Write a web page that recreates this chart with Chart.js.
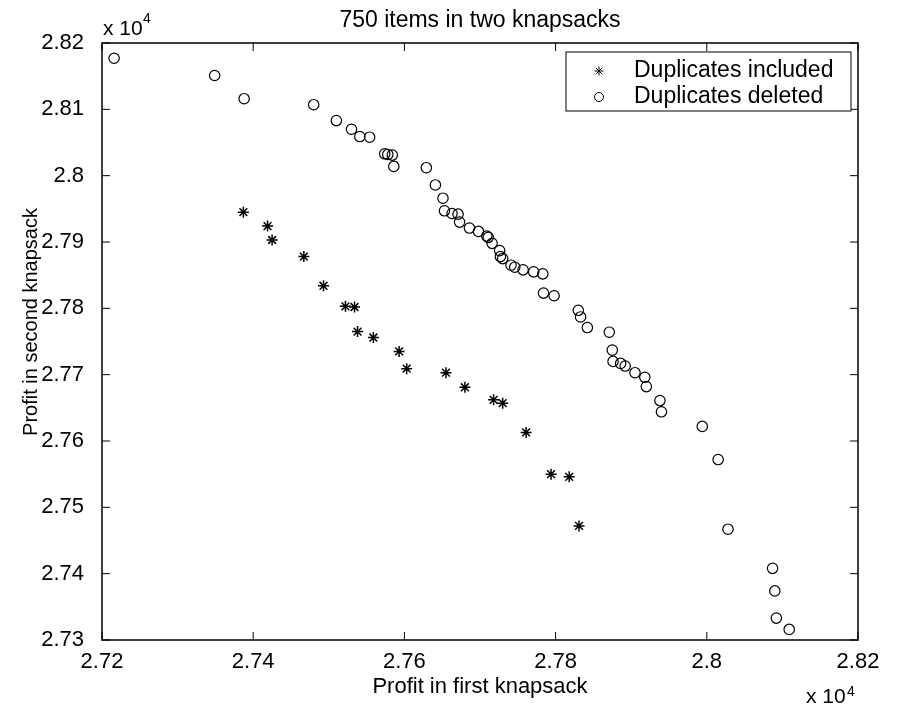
<!DOCTYPE html>
<html>
<head>
<meta charset="utf-8">
<script src="https://cdn.jsdelivr.net/npm/chart.js@4"></script>
<style>
  html, body { margin: 0; padding: 0; background: #fff; }
</style>
</head>
<body>
<canvas id="grafico" width="900" height="708"></canvas>
<script>
// profit values (raw, axis shows them x 10^4)
const incluidosX = [27387, 27419, 27425, 27467, 27493, 27522, 27534, 27538, 27559, 27593,
                    27603, 27655, 27680, 27718, 27730, 27761, 27794, 27818, 27831];
const incluidosY = [27945, 27924, 27903, 27878, 27834, 27803, 27802, 27765, 27756, 27735,
                    27709, 27703, 27681, 27662, 27657, 27613, 27550, 27546, 27472];

const deletadosX = [27216, 27349, 27388, 27480, 27510, 27530, 27541, 27554, 27574, 27578,
                    27584, 27586, 27629, 27641, 27651, 27653, 27663, 27671, 27673, 27686,
                    27698, 27709, 27711, 27716, 27726, 27727, 27730, 27741, 27746, 27757,
                    27771, 27783, 27784, 27798, 27830, 27833, 27842, 27871, 27875, 27876,
                    27886, 27892, 27905, 27918, 27920, 27938, 27940, 27994, 28015, 28028,
                    28087, 28090, 28092, 28109];
const deletadosY = [28177, 28151, 28116, 28107, 28083, 28070, 28059, 28058, 28033, 28032,
                    28031, 28014, 28012, 27986, 27966, 27947, 27943, 27942, 27930, 27921,
                    27916, 27909, 27907, 27898, 27887, 27878, 27875, 27865, 27862, 27858,
                    27855, 27852, 27823, 27819, 27797, 27787, 27771, 27764, 27737, 27720,
                    27717, 27713, 27703, 27696, 27682, 27661, 27644, 27622, 27572, 27467,
                    27408, 27374, 27333, 27316];

const legendas = ["Duplicates included", "Duplicates deleted"];
const titulo = "750 items in two knapsacks";
const tituloX = "Profit in first knapsack";
const tituloY = "Profit in second knapsack";

const FONTE = "'Liberation Sans', Arial, Helvetica, sans-serif";

function pontos(xs, ys) {
    return xs.map((x, i) => ({ x: x, y: ys[i] }));
}

function rotulo(v) {
    return parseFloat((v / 1e4).toFixed(4)).toString();
}

// frame, inward ticks, labels and legend drawn like the matlab figure
const molduraPlugin = {
    id: "moldura",
    beforeDraw(chart) {
        const ctx = chart.ctx;
        ctx.save();
        ctx.fillStyle = "#fff";
        ctx.fillRect(0, 0, chart.width, chart.height);
        ctx.restore();
    },
    afterDraw(chart) {
        const ctx = chart.ctx;
        const a = chart.chartArea;
        const sx = chart.scales.x;
        const sy = chart.scales.y;
        ctx.save();

        // box
        ctx.strokeStyle = "#000";
        ctx.lineWidth = 1.5;
        ctx.strokeRect(a.left, a.top, a.right - a.left, a.bottom - a.top);

        // inward ticks on all four sides
        ctx.lineWidth = 1;
        ctx.beginPath();
        sx.ticks.forEach(t => {
            const px = sx.getPixelForValue(t.value);
            ctx.moveTo(px, a.bottom); ctx.lineTo(px, a.bottom - 8);
            ctx.moveTo(px, a.top); ctx.lineTo(px, a.top + 8);
        });
        sy.ticks.forEach(t => {
            const py = sy.getPixelForValue(t.value);
            ctx.moveTo(a.left, py); ctx.lineTo(a.left + 8, py);
            ctx.moveTo(a.right, py); ctx.lineTo(a.right - 8, py);
        });
        ctx.stroke();

        ctx.fillStyle = "#000";

        // title
        ctx.font = "23px " + FONTE;
        ctx.textAlign = "center";
        ctx.textBaseline = "alphabetic";
        ctx.fillText(titulo, (a.left + a.right) / 2, 27);

        // axis titles
        ctx.font = "22px " + FONTE;
        ctx.fillText(tituloX, (a.left + a.right) / 2, 693);
        ctx.save();
        ctx.translate(37, 322);
        ctx.rotate(-Math.PI / 2);
        ctx.font = "20px " + FONTE;
        ctx.fillText(tituloY, 0, 0);
        ctx.restore();

        // x 10^4 exponents
        ctx.textAlign = "left";
        ctx.font = "21px " + FONTE;
        ctx.fillText("x 10", a.left + 1, 35);
        ctx.font = "14px " + FONTE;
        ctx.fillText("4", a.left + 41, 23);
        ctx.font = "21px " + FONTE;
        ctx.fillText("x 10", 806, 703);
        ctx.font = "14px " + FONTE;
        ctx.fillText("4", 847, 696);

        // legend
        const lx = 566, ly = 52, lw = 285, lh = 59;
        ctx.fillStyle = "#fff";
        ctx.fillRect(lx, ly, lw, lh);
        ctx.strokeStyle = "#000";
        ctx.lineWidth = 1;
        ctx.strokeRect(lx, ly, lw, lh);
        const estilos = ["star", "circle"];
        const linhasY = [71, 97];
        ctx.font = "23px " + FONTE;
        ctx.textBaseline = "middle";
        legendas.forEach((txt, i) => {
            ctx.strokeStyle = "#000";
            ctx.fillStyle = "rgba(0,0,0,0)";
            Chart.helpers.drawPoint(ctx, {
                pointStyle: estilos[i], radius: 4.5, rotation: 0, borderWidth: 1.1
            }, 599, linhasY[i]);
            ctx.fillStyle = "#000";
            ctx.fillText(txt, 634, linhasY[i]);
        });
        ctx.restore();
    }
};

new Chart(document.getElementById("grafico"), {
    type: "scatter",
    data: {
        datasets: [
            {
                label: legendas[0],
                data: pontos(incluidosX, incluidosY),
                pointStyle: "star",
                pointRadius: 5.5,
                borderColor: "#000",
                backgroundColor: "#000",
                pointBorderWidth: 1.5
            },
            {
                label: legendas[1],
                data: pontos(deletadosX, deletadosY),
                pointStyle: "circle",
                pointRadius: 5.2,
                borderColor: "#000",
                backgroundColor: "rgba(0,0,0,0)",
                pointBorderWidth: 1.2
            }
        ]
    },
    options: {
        responsive: false,
        animation: false,
        devicePixelRatio: 1,
        layout: { padding: { top: 43, right: 42, left: 0, bottom: 0 } },
        plugins: {
            legend: { display: false },
            title: { display: false },
            tooltip: { enabled: false }
        },
        scales: {
            x: {
                type: "linear",
                min: 27200,
                max: 28200,
                grid: { display: false },
                border: { display: false },
                ticks: {
                    stepSize: 200,
                    padding: 1,
                    color: "#000",
                    font: { size: 22, family: FONTE },
                    maxRotation: 0,
                    callback: rotulo
                },
                afterFit(scale) { scale.height = 68; }
            },
            y: {
                type: "linear",
                min: 27300,
                max: 28200,
                grid: { display: false },
                border: { display: false },
                ticks: {
                    stepSize: 100,
                    padding: 10,
                    color: "#000",
                    font: { size: 22, family: FONTE },
                    callback: rotulo
                },
                afterFit(scale) { scale.width = 102; }
            }
        }
    },
    plugins: [molduraPlugin]
});
</script>
</body>
</html>
